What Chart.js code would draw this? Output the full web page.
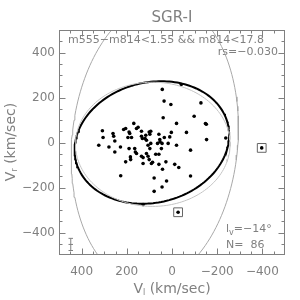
<!DOCTYPE html>
<html>
<head>
<meta charset="utf-8">
<script src="https://cdn.jsdelivr.net/npm/chart.js@4"></script>
<style>
	body { margin: 0; background: #fff; }
	#wrap { width: 300px; height: 300px; }
</style>
</head>
<body>
<div id="wrap"><canvas id="chart"></canvas></div>
<script>
// stars: V_l and V_r in km/sec
const starVl = [-41, 43, 35, 5, -128, 39, -98, -20, -148, -152, -64, 3, -153, -238, 10, 34, 54, 53, 64, 44, 17, -20, 47, -82, 94, 98, 58, 94, 98, 72, 58, 86, 58, 27, -12, -30, 42, -82, 79, 24, 44, 79, 227, 128, 308, 305, 324, 279, 261, 258, 253, 228, 253, 214, 205, 190, 187, 169, 157, 150, 195, 179, 205, 190, 165, 162, 135, 131, 128, 135, 128, 113, 106, 113, 106, 101, 135, 116, 119, 183, 184, 157, 101, 91]
const starVr = [258, 236, 184, 169, 176, 110, 117, 85, 84, 81, 45, 45, 13, 20, 25, 22, 13, 3, -4, -4, -4, -12, -27, -34, 50, 37, 37, -4, -27, -52, -52, -88, -97, -86, -97, -111, -119, -149, -158, -171, -198, -217, -148, -276, 52, 22, -12, -20, 40, 28, 7, -20, -42, 58, 62, 47, 40, 85, 62, 68, 22, 22, -86, -27, -27, -42, 28, 18, -93, -61, -67, 10, -12, -49, -61, 47, 50, 32, 18, -76, -64, -49, -76, -93]
// rejected stars (drawn in a box)
const boxedVl = [-27, -397]
const boxedVr = [-310, -24]
// typical error bar
const errVl = [448]
const errVr = [-453]
const errDVl = [10]
const errDVr = [27]
// velocity ellipses: fit, no tilt, 3 sigma
const ellCx = [89, 85, 76]
const ellCy = [0, -8, 0]
const ellA = [346, 342, 367]
const ellB = [267, 276, 628]
const ellTilt = [-14, 0, 5.3]
const tickValues = [400, 200, 0, -200, -400]

const grey = '#808080'
const font = 'DejaVu Sans'

function ellipsePoints(i) {
	let pts = []
	let th = ellTilt[i] * Math.PI / 180
	for (let k = 0; k <= 360; k += 2) {
		let t = k * Math.PI / 180
		let u = ellA[i] * Math.cos(t)
		let w = ellB[i] * Math.sin(t)
		pts.push({
			x: ellCx[i] + u * Math.cos(th) - w * Math.sin(th),
			y: ellCy[i] + u * Math.sin(th) + w * Math.cos(th)
		})
	}
	return pts
}

let errPts = []
errVl.forEach((x, i) => {
	let y = errVr[i], dx = errDVl[i], dy = errDVr[i]
	errPts.push({ x: x, y: y - dy }, { x: x, y: y + dy }, { x: NaN, y: NaN })
	errPts.push({ x: x - dx, y: y - dy }, { x: x + dx, y: y - dy }, { x: NaN, y: NaN })
	errPts.push({ x: x - dx, y: y + dy }, { x: x + dx, y: y + dy }, { x: NaN, y: NaN })
	errPts.push({ x: x - dx, y: y }, { x: x + dx, y: y })
})

const stars = starVl.map((x, i) => ({ x: x, y: starVr[i] }))
const boxed = boxedVl.map((x, i) => ({ x: x, y: boxedVr[i] }))

// IDL style frame: inward ticks on all four sides, texts
const idlFrame = {
	id: 'idlFrame',
	afterDraw(chart) {
		const { ctx, chartArea: a, scales: { x, y } } = chart
		ctx.save()
		ctx.strokeStyle = grey
		ctx.lineWidth = 1
		let L = Math.round(a.left) + 0.5, R = Math.round(a.right) - 0.5
		let T = Math.round(a.top) + 0.5, B = Math.round(a.bottom) - 0.5
		ctx.strokeRect(L, T, R - L, B - T)
		ctx.beginPath()
		for (let v = -450; v <= 450; v += 50) {
			let len = v % 200 === 0 ? 6 : 3
			let px = Math.round(x.getPixelForValue(v)) + 0.5
			ctx.moveTo(px, B); ctx.lineTo(px, B - len)
			ctx.moveTo(px, T); ctx.lineTo(px, T + len)
			let py = Math.round(y.getPixelForValue(v)) + 0.5
			ctx.moveTo(L, py); ctx.lineTo(L + len, py)
			ctx.moveTo(R, py); ctx.lineTo(R - len, py)
		}
		ctx.stroke()

		ctx.fillStyle = grey
		ctx.textBaseline = 'middle'
		ctx.textAlign = 'center'
		ctx.font = '15px ' + font
		ctx.fillText('SGR-I', 172, 18)

		ctx.font = '11px ' + font
		ctx.textAlign = 'left'
		ctx.fillText('m555\u2212m814<1.55 && m814<17.8', 68, 40, 212)
		ctx.textAlign = 'right'
		ctx.fillText('rs=\u22120.030', 278, 52)

		ctx.textAlign = 'left'
		ctx.fillText('l', 226, 229)
		let w = ctx.measureText('l').width
		ctx.font = '8px ' + font
		ctx.fillText('v', 226 + w, 233)
		let w2 = ctx.measureText('v').width
		ctx.font = '11px ' + font
		ctx.fillText('=\u221214\u00b0', 226 + w + w2, 229)
		ctx.fillText('N=  86', 226, 245)

		// axis titles with subscripts
		function subTitle(main, sub, rest, cx, cy, rot) {
			ctx.save()
			ctx.translate(cx, cy)
			ctx.rotate(rot)
			ctx.font = '14px ' + font
			let w1 = ctx.measureText(main).width
			let w3 = ctx.measureText(rest).width
			ctx.font = '8px ' + font
			let ws = ctx.measureText(sub).width
			let x0 = -(w1 + ws + w3) / 2
			ctx.textAlign = 'left'
			ctx.font = '14px ' + font
			ctx.fillText(main, x0, 0)
			ctx.font = '8px ' + font
			ctx.fillText(sub, x0 + w1, 4)
			ctx.font = '14px ' + font
			ctx.fillText(rest, x0 + w1 + ws, 0)
			ctx.restore()
		}
		subTitle('V', 'l', ' (km/sec)', 172, 289, 0)
		subTitle('V', 'r', ' (km/sec)', 11, 142, -Math.PI / 2)
		ctx.restore()
	}
}

const axisCommon = {
	type: 'linear',
	min: -500,
	max: 500,
	grid: { display: false, drawTicks: false },
	border: { display: false },
	afterBuildTicks: s => { s.ticks = tickValues.map(v => ({ value: v })) },
	ticks: {
		color: grey,
		font: { family: font, size: 12 },
		callback: v => String(v).replace('-', '\u2212')
	}
}

new Chart(document.getElementById('chart'), {
	type: 'scatter',
	data: {
		datasets: [
			{ data: ellipsePoints(2), showLine: true, borderColor: '#a8a8a8', borderWidth: 1, pointRadius: 0 },
			{ data: ellipsePoints(1), showLine: true, borderColor: '#c4c4c4', borderWidth: 1, pointRadius: 0 },
			{ data: ellipsePoints(0), showLine: true, borderColor: '#000', borderWidth: 2, pointRadius: 0 },
			{ data: stars, pointRadius: 1.8, backgroundColor: '#000', borderWidth: 0 },
			{ data: boxed, pointRadius: 1.8, backgroundColor: '#000', borderWidth: 0 },
			{ data: boxed, pointStyle: 'rect', pointRadius: 6.2, backgroundColor: 'rgba(0,0,0,0)', borderColor: '#666', borderWidth: 1 },
			{ data: errPts, showLine: true, spanGaps: false, borderColor: grey, borderWidth: 1, pointRadius: 0 }
		]
	},
	options: {
		responsive: true,
		maintainAspectRatio: false,
		animation: false,
		layout: { padding: { left: 0, right: 15, top: 30, bottom: 0 } },
		plugins: { legend: { display: false }, tooltip: { enabled: false } },
		scales: {
			x: Object.assign({}, axisCommon, {
				reverse: true,
				afterFit: s => { s.height = 45 },
				ticks: Object.assign({}, axisCommon.ticks, { padding: 10 })
			}),
			y: Object.assign({}, axisCommon, {
				afterFit: s => { s.width = 59 },
				ticks: Object.assign({}, axisCommon.ticks, { padding: 4 })
			})
		}
	},
	plugins: [idlFrame]
})
</script>
</body>
</html>
